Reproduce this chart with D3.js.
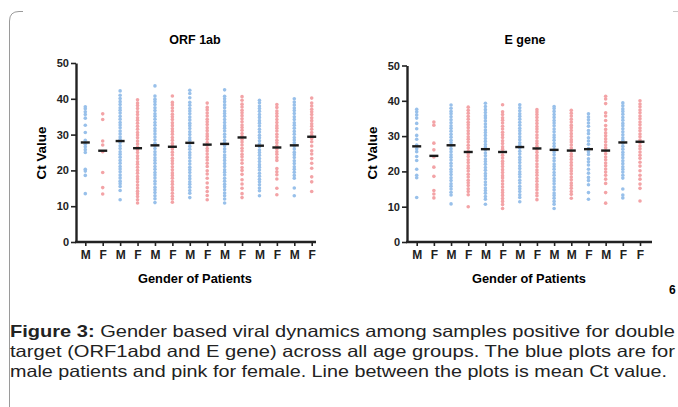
<!DOCTYPE html>
<html>
<head>
<meta charset="utf-8">
<script src="https://cdn.jsdelivr.net/npm/d3@7"></script>
<style>
body{margin:0;background:#fff;}
svg{display:block;font-family:"Liberation Sans",Arial,sans-serif;}
</style>
</head>
<body>
<script>
// ORF 1ab panel
var orfLabels=['M','F','M','F','M','F','M','F','M','F','M','F','M','F'];
var orfGender=['M','F','M','F','M','F','M','F','M','F','M','F','M','F'];
var orfMeans=[27.8,25.5,28.2,26.2,27.0,26.6,27.7,27.2,27.4,29.2,26.9,26.4,27.0,29.4];
var orfValues=[
[13.5,18.6,19.8,20.3,25.0,25.8,26.6,27.3,28.4,30.6,32.6,34.6,35.6,36.4,37.2,37.8],
[13.4,15.2,19.4,25.2,27.1,28.2,34.2,35.8],
[11.8,14.4,15.5,16.3,17.0,17.9,18.7,19.6,20.4,21.1,22.0,22.8,23.7,24.5,25.2,26.1,26.9,27.8,28.6,29.3,30.2,31.0,31.9,32.7,33.4,34.3,35.1,36.0,36.8,37.5,38.4,39.2,40.1,41.0,42.2],
[10.9,11.8,12.7,13.5,14.2,15.1,15.9,16.8,17.6,18.3,19.2,20.0,20.9,21.7,22.4,23.3,24.1,25.0,25.8,26.5,27.4,28.2,29.1,29.9,30.6,31.5,32.3,33.2,34.0,34.7,35.6,36.4,37.3,38.1,38.8,39.7],
[11.0,12.1,12.9,13.8,14.6,15.3,16.2,17.0,17.9,18.7,19.4,20.3,21.1,22.0,22.8,23.5,24.4,25.2,26.1,26.9,27.6,28.5,29.3,30.2,31.0,31.7,32.6,33.4,34.3,35.1,35.8,36.7,37.5,38.4,39.2,39.9,40.8,43.6],
[11.1,12.0,12.8,13.6,14.5,15.2,16.1,16.9,17.8,18.6,19.3,20.2,21.0,21.9,22.7,23.4,24.3,25.1,26.0,26.8,27.5,28.4,29.2,30.1,30.9,31.6,32.5,33.3,34.2,35.0,35.7,36.6,37.4,38.3,39.0,40.8],
[12.4,13.6,14.4,15.3,16.1,16.8,17.7,18.5,19.4,20.2,20.9,21.8,22.6,23.5,24.3,25.0,25.9,26.7,27.6,28.4,29.1,30.0,30.8,31.7,32.5,33.2,34.1,34.9,35.8,36.6,37.3,38.2,39.0,40.3,41.5,42.4],
[11.8,13.0,14.1,15.2,16.5,17.8,19.0,19.9,21.1,22.0,22.9,23.7,24.6,25.4,26.1,27.0,27.8,28.7,29.5,30.2,31.1,31.9,32.8,33.6,34.3,35.2,36.0,36.9,37.6,38.8],
[10.9,12.0,12.9,13.7,14.6,15.4,16.1,17.0,17.8,18.7,19.5,20.2,21.1,21.9,22.8,23.6,24.3,25.2,26.0,26.9,27.7,28.4,29.3,30.1,31.0,31.8,32.5,33.4,34.2,35.1,35.9,36.6,37.5,38.3,39.2,40.0,40.7,42.5],
[12.4,13.5,15.0,16.2,17.4,18.9,20.0,20.8,22.0,22.9,23.8,24.5,25.4,26.2,27.1,27.9,28.6,29.5,30.3,31.2,32.0,32.7,33.6,34.4,35.3,36.1,36.8,37.7,38.5,39.6,40.6],
[12.9,14.3,15.1,16.0,16.8,17.5,18.4,19.2,20.1,20.9,21.6,22.5,23.3,24.2,25.0,25.7,26.6,27.4,28.3,29.1,29.8,30.7,31.5,32.4,33.2,33.9,34.8,35.6,36.5,37.3,38.0,38.9,39.6],
[13.2,15.0,17.6,18.8,19.6,20.5,22.8,23.6,24.5,25.2,26.0,26.9,27.7,28.4,29.3,30.1,31.0,31.8,32.5,33.4,34.2,35.1,35.9,36.6,37.6,38.4],
[12.9,15.1,17.8,18.6,19.5,20.3,21.0,21.9,22.7,23.6,24.4,25.1,26.0,26.8,27.7,28.5,29.2,30.1,30.9,31.8,32.6,33.3,34.2,35.0,35.9,36.7,37.4,38.3,39.1,40.0],
[14.1,16.8,18.2,20.6,22.0,23.3,24.6,25.5,26.8,28.0,28.9,29.8,30.6,31.5,32.3,33.0,33.9,34.7,35.6,36.4,37.1,38.0,38.8,40.2]
];

// E gene panel (label row in the figure does not alternate at the end)
var egeneLabels=['M','F','M','F','M','F','M','F','M','M','F','M','F','F'];
var egeneGender=['M','F','M','F','M','F','M','F','M','F','M','F','M','F'];
var egeneMeans=[27.1,24.4,27.4,25.5,26.3,25.5,26.9,26.5,26.1,25.9,26.3,25.9,28.2,28.4];
var egeneValues=[
[12.6,18.2,18.9,20.6,23.1,24.2,25.6,26.4,27.5,29.1,30.2,32.1,33.6,35.1,36.0,36.9,37.6],
[12.5,13.6,14.6,18.6,21.2,24.1,26.1,28.0,33.1,34.0],
[10.8,13.3,14.1,15.0,15.8,16.5,17.4,18.2,19.1,19.9,20.6,21.5,22.3,23.2,24.0,24.7,25.6,26.4,27.3,28.1,28.8,29.7,30.5,31.4,32.2,32.9,33.8,34.6,35.5,36.3,37.0,37.9,38.8],
[10.0,13.4,14.3,15.1,16.0,16.8,17.5,18.4,19.2,20.1,20.9,21.6,22.5,23.3,24.2,25.0,25.7,26.6,27.4,28.3,29.1,29.8,30.7,31.5,32.4,33.2,33.9,34.8,35.6,36.5,37.3,38.2],
[10.7,12.1,12.9,13.8,14.6,15.3,16.2,17.0,17.9,18.7,19.4,20.3,21.1,22.0,22.8,23.5,24.4,25.2,26.1,26.9,27.6,28.5,29.3,30.2,31.0,31.7,32.6,33.4,34.3,35.1,35.8,36.7,37.5,38.4,39.3],
[9.5,10.6,11.5,12.3,13.2,14.0,14.7,15.6,16.4,17.3,18.1,18.8,19.7,20.5,21.4,22.2,22.9,23.8,24.6,25.5,26.3,27.0,27.9,28.7,29.6,30.4,31.1,32.0,32.8,33.7,34.5,35.2,36.1,36.9,38.9],
[11.4,12.6,13.4,14.3,15.1,15.8,16.7,17.5,18.4,19.2,19.9,20.8,21.6,22.5,23.3,24.0,24.9,25.7,26.6,27.4,28.1,29.0,29.8,30.7,31.5,32.2,33.1,33.9,34.8,35.6,36.3,37.2,38.0,38.9],
[12.0,13.1,13.9,14.8,15.6,16.3,17.2,18.0,18.9,19.7,20.4,21.3,22.1,23.0,23.8,24.5,25.4,26.2,27.1,27.9,28.6,29.5,30.3,31.2,32.0,32.7,33.6,34.4,35.3,36.1,36.8,37.5],
[9.5,10.7,11.5,12.4,13.2,13.9,14.8,15.6,16.5,17.3,18.0,18.9,19.7,20.6,21.4,22.1,23.0,23.8,24.7,25.5,26.2,27.1,27.9,28.8,29.6,30.3,31.2,32.0,32.9,33.7,34.4,35.3,36.1,37.0,37.8,38.4],
[12.4,13.5,14.3,15.2,16.0,16.7,17.6,18.4,19.3,20.1,20.8,21.7,22.5,23.4,24.2,24.9,25.8,26.6,27.5,28.3,29.0,29.9,30.7,31.6,32.4,33.1,34.0,34.8,35.7,36.5,37.3],
[12.1,14.0,16.2,17.4,18.3,19.5,20.6,21.8,22.7,23.6,24.8,25.6,26.5,27.7,28.6,29.5,30.7,31.6,32.8,33.7,34.6,35.4,36.3],
[11.0,14.0,16.6,17.8,18.9,19.8,20.7,21.6,22.4,23.3,24.1,25.0,25.8,26.7,27.5,28.4,29.2,30.1,30.9,31.9,33.0,34.4,35.7,36.6,39.2,40.5,41.3],
[12.5,13.3,15.0,18.1,18.9,19.8,20.6,21.3,22.2,23.0,23.9,24.7,25.4,26.3,27.1,28.0,28.8,29.5,30.4,31.2,32.1,32.9,33.6,34.5,35.3,36.2,37.0,37.7,38.6,39.4],
[11.6,15.2,16.4,17.8,18.9,20.2,21.5,22.6,23.7,24.6,25.5,26.4,27.2,28.1,28.9,29.8,30.6,31.5,32.3,33.2,34.0,34.9,35.7,36.6,37.4,38.3,39.1,40.0]
];

var yTicks=[0,10,20,30,40,50];
var captionLines=[
    ['Figure 3:',' Gender based viral dynamics among samples positive for double'],
    ['','target (ORF1abd and E gene) across all age groups. The blue plots are for'],
    ['','male patients and pink for female. Line between the plots is mean Ct value.']
];

var width=678,height=407;
var svg=d3.select('body').append('svg')
    .attr('width',width)
    .attr('height',height);

// page frame bits
svg.append('path')
    .attr('d','M9.5,407 V21 Q9.5,11.5 19,11.5 H23')
    .attr('fill','none')
    .attr('stroke','#9a9a9a')
    .attr('stroke-width',1);
svg.append('line')
    .attr('x1',673).attr('x2',678).attr('y1',11.5).attr('y2',11.5)
    .attr('stroke','#c8c8c8');
svg.append('text')
    .attr('x',669).attr('y',294)
    .style('font-size','12px').style('font-weight','bold')
    .text('6');

function drawPanel(o){
    var x=d3.scalePoint()
        .domain(d3.range(o.labels.length))
        .range([o.x0,o.x1]);
    var y=d3.scaleLinear()
        .domain([0,50])
        .range([242,o.yTop]);
    var g=svg.append('g');

    g.append('text')
        .attr('x',o.titleX).attr('y',44)
        .attr('text-anchor','middle')
        .style('font-size','12.5px').style('font-weight','bold')
        .text(o.title);

    // dots
    o.values.forEach(function(vals,i){
        g.append('g')
        .selectAll('circle')
        .data(vals)
        .enter()
        .append('circle')
        .attr('cx',x(i))
        .attr('cy',function(d){return y(d);})
        .attr('r',1.8)
        .style('fill',o.gender[i]=='M'?'#98c0ea':'#f3a3a6');
    });

    // mean lines
    g.selectAll('.mean')
        .data(o.means)
        .enter()
        .append('line')
        .attr('class','mean')
        .attr('x1',function(d,i){return x(i)-4.5;})
        .attr('x2',function(d,i){return x(i)+4.5;})
        .attr('y1',function(d){return y(d);})
        .attr('y2',function(d){return y(d);})
        .style('stroke','#1b1b1b')
        .style('stroke-width',2.4);

    var yAxis=d3.axisLeft(y).tickValues(yTicks).tickSize(5).tickSizeOuter(0).tickPadding(2);
    var ya=g.append('g')
        .attr('transform','translate('+o.axisX+',0)')
        .call(yAxis);
    ya.select('.domain').attr('stroke-width',2.4).attr('stroke','#222');
    ya.selectAll('.tick line').attr('stroke-width',1.6).attr('stroke','#222');
    ya.selectAll('.tick text')
        .style('font-size','11px').style('font-weight','bold')
        .style('font-family','"Liberation Sans",Arial,sans-serif').attr('fill','#222');

    var xAxis=d3.axisBottom(x).tickSize(4).tickSizeOuter(0).tickPadding(4)
        .tickFormat(function(i){return o.labels[i];});
    var xa=g.append('g')
        .attr('transform','translate(0,242)')
        .call(xAxis);
    xa.select('.domain').remove();
    xa.selectAll('.tick line').attr('stroke-width',1.6).attr('stroke','#222');
    xa.selectAll('.tick text')
        .style('font-size','12px').style('font-weight','bold')
        .style('font-family','"Liberation Sans",Arial,sans-serif').attr('fill','#222');
    g.append('line')
        .attr('x1',o.axisX-1).attr('x2',o.axisEnd)
        .attr('y1',242).attr('y2',242)
        .attr('stroke','#222').attr('stroke-width',2.4);

    g.append('text')
        .attr('transform','translate('+o.yLabelX+',153) rotate(-90)')
        .attr('text-anchor','middle')
        .attr('textLength',53).attr('lengthAdjust','spacingAndGlyphs')
        .style('font-size','12.5px').style('font-weight','bold')
        .text('Ct Value');
    g.append('text')
        .attr('x',o.xLabelX).attr('y',283)
        .attr('text-anchor','middle')
        .attr('textLength',114).attr('lengthAdjust','spacingAndGlyphs')
        .style('font-size','12.5px').style('font-weight','bold')
        .text('Gender of Patients');
}

drawPanel({title:'ORF 1ab',labels:orfLabels,gender:orfGender,means:orfMeans,values:orfValues,
    x0:85.3,x1:311.7,yTop:63,axisX:76,axisEnd:316,titleX:195,yLabelX:46,xLabelX:195});
drawPanel({title:'E gene',labels:egeneLabels,gender:egeneGender,means:egeneMeans,values:egeneValues,
    x0:416.7,x1:640,yTop:65.5,axisX:407,axisEnd:652,titleX:525,yLabelX:377,xLabelX:529});

// caption
captionLines.forEach(function(l,i){
    var t=svg.append('text')
        .attr('x',10)
        .attr('y',337+i*20)
        .attr('textLength',i==2?657:665)
        .attr('lengthAdjust','spacingAndGlyphs')
        .style('font-size','16.5px')
        .attr('fill','#222');
    t.append('tspan').style('font-weight','bold').text(l[0]);
    t.append('tspan').text(l[1]);
});
</script>
</body>
</html>
